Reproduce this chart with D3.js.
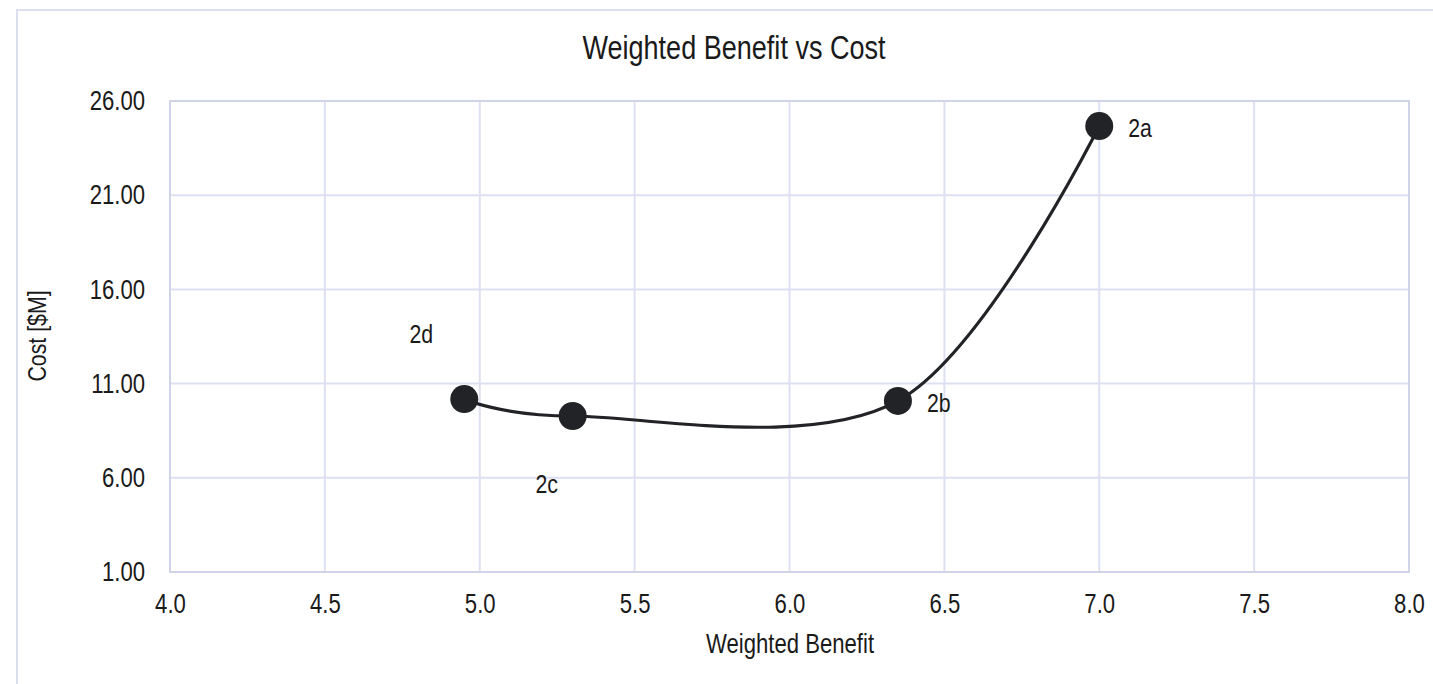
<!DOCTYPE html>
<html>
<head>
<meta charset="utf-8">
<script src="https://cdn.jsdelivr.net/npm/d3@7"></script>
<style>
  html, body { margin: 0; padding: 0; background: #fff; }
  svg { display: block; }
  text { font-family: "Liberation Sans", Arial, sans-serif; fill: #1a1a1a; }
</style>
</head>
<body>
<svg id="chart" width="1433" height="684"></svg>
<script>
const labels  = ["2d", "2c", "2b", "2a"];
const benefit = [4.95, 5.30, 6.35, 7.00];
const cost    = [10.18, 9.28, 10.08, 24.67];
const xTicks  = [4.0, 4.5, 5.0, 5.5, 6.0, 6.5, 7.0, 7.5, 8.0];
const yTicks  = [1, 6, 11, 16, 21, 26];

const NARROW = 0.82;
const svg = d3.select("#chart");
const plot = { left: 170, right: 1409, top: 101, bottom: 572 };

function narrowText(parent, x, y, str, size, anchor, rotate) {
  const g = parent.append("g").attr("transform", `translate(${x},${y})` + (rotate ? ` rotate(${rotate})` : ""));
  g.append("text").attr("transform", `scale(${NARROW},1)`)
    .attr("text-anchor", anchor || "start").attr("font-size", size).text(str);
  return g;
}

// outer chart border
svg.append("rect").attr("x", 17).attr("y", 10).attr("width", 1440).attr("height", 700)
  .attr("fill", "none").attr("stroke", "#dcdfee").attr("stroke-width", 2);

const x = d3.scaleLinear().domain([4, 8]).range([plot.left, plot.right]);
const y = d3.scaleLinear().domain([1, 26]).range([plot.bottom, plot.top]);

const grid = svg.append("g");
grid.selectAll("line.v").data(xTicks).join("line")
  .attr("x1", d => x(d)).attr("x2", d => x(d))
  .attr("y1", plot.top).attr("y2", plot.bottom)
  .attr("stroke", "#dde0f1").attr("stroke-width", 2);
grid.selectAll("line.h").data(yTicks).join("line")
  .attr("x1", plot.left).attr("x2", plot.right)
  .attr("y1", d => y(d)).attr("y2", d => y(d))
  .attr("stroke", "#dde0f1").attr("stroke-width", 2);
svg.append("rect").attr("x", plot.left).attr("y", plot.top)
  .attr("width", plot.right - plot.left).attr("height", plot.bottom - plot.top)
  .attr("fill", "none").attr("stroke", "#cfd4e8").attr("stroke-width", 2);

// axes (labels only)
const TICK_SIZE = 27;
const xAxis = d3.axisBottom(x).tickValues(xTicks).tickFormat(d3.format(".1f")).tickSize(0).tickPadding(22);
const gx = svg.append("g").attr("transform", `translate(0,${plot.bottom})`).call(xAxis);
gx.select(".domain").remove();
gx.attr("font-family", null);
gx.selectAll("text").attr("font-size", TICK_SIZE).attr("fill", "#1a1a1a")
  .attr("transform", `scale(${NARROW},1)`);

const yAxis = d3.axisLeft(y).tickValues(yTicks).tickFormat(d3.format(".2f")).tickSize(0).tickPadding(25);
const gy = svg.append("g").attr("transform", `translate(${plot.left},0)`).call(yAxis);
gy.select(".domain").remove();
gy.attr("font-family", null);
gy.selectAll("text").attr("font-size", TICK_SIZE).attr("fill", "#1a1a1a")
  .attr("x", -25 / NARROW).attr("transform", `scale(${NARROW},1)`);

// title
narrowText(svg, 734, 59, "Weighted Benefit vs Cost", 33, "middle");
// axis titles
narrowText(svg, 790, 653, "Weighted Benefit", 27, "middle");
narrowText(svg, 46, 336, "Cost [$M]", 26, "middle", -90);

// data
const pts = benefit.map((b, i) => ({ b, c: cost[i], label: labels[i] }));
const line = d3.line().x(d => x(d.b)).y(d => y(d.c)).curve(d3.curveCardinal.tension(0));
svg.append("path").datum(pts).attr("d", line)
  .attr("fill", "none").attr("stroke", "#222326").attr("stroke-width", 3.2);
svg.selectAll("circle.pt").data(pts).join("circle")
  .attr("cx", d => x(d.b)).attr("cy", d => y(d.c)).attr("r", 14)
  .attr("fill", "#222326");

// data labels
const labelPos = {
  "2d": { dx: -43, dy: -56, anchor: "middle" },
  "2c": { dx: -26, dy: 77, anchor: "middle" },
  "2b": { dx: 29, dy: 11, anchor: "start" },
  "2a": { dx: 29, dy: 11, anchor: "start" }
};
pts.forEach(d => {
  const p = labelPos[d.label];
  narrowText(svg, x(d.b) + p.dx, y(d.c) + p.dy, d.label, 26, p.anchor);
});
</script>
</body>
</html>
